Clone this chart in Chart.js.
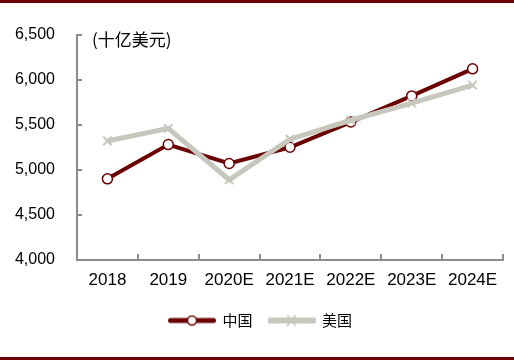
<!DOCTYPE html>
<html>
<head>
<meta charset="utf-8">
<script src="https://cdn.jsdelivr.net/npm/chart.js@4.4.1/dist/chart.umd.min.js"></script>
<style>
  html, body { margin: 0; padding: 0; background: #fff; }
  #wrap { width: 514px; height: 354px; border-top: 3px solid #6b0000; border-bottom: 3px solid #6b0000; position: relative; }
  canvas { display: block; }
</style>
</head>
<body>
<div id="wrap"><canvas id="c" width="514" height="354"></canvas></div>
<script>
const categories = ['2018', '2019', '2020E', '2021E', '2022E', '2023E', '2024E'];
const chinaValues = [4900, 5280, 5070, 5250, 5530, 5820, 6120];
const usValues = [5320, 5460, 4890, 5340, 5550, 5740, 5940];
const seriesNames = ['中国', '美国'];
const unitLabel = '(十亿美元)';
const yMin = 4000, yMax = 6500, yStep = 500;

const RED = '#6b0000';
const GRAY = '#c7c7bd';
const AXIS = '#8c8c8c';

function legendIcon(color, lw, marker) {
  const c = document.createElement('canvas');
  c.width = 48; c.height = 12;
  const g = c.getContext('2d');
  g.strokeStyle = color; g.lineWidth = lw; g.lineCap = 'round';
  g.beginPath(); g.moveTo(2.5, 6); g.lineTo(45.5, 6); g.stroke();
  if (marker === 'circle') {
    g.fillStyle = '#fff'; g.lineWidth = 1.5;
    g.beginPath(); g.arc(24, 6, 4.5, 0, Math.PI * 2); g.fill(); g.stroke();
  } else {
    g.lineWidth = 1.5;
    g.beginPath(); g.moveTo(20, 1); g.lineTo(28, 11); g.moveTo(28, 1); g.lineTo(20, 11); g.stroke();
  }
  return c;
}

const tickPlugin = {
  id: 'tickMarks',
  afterLayout(chart) {
    if (chart.legend) { chart.legend.left += 9; chart.legend.right += 9; }
  },
  afterDraw(chart) {
    const ctx = chart.ctx, x = chart.scales.x, y = chart.scales.y, a = chart.chartArea;
    ctx.save();
    ctx.strokeStyle = AXIS; ctx.lineWidth = 2;
    y.ticks.forEach((t, i) => {
      const py = Math.round(y.getPixelForTick(i));
      ctx.beginPath(); ctx.moveTo(a.left, py); ctx.lineTo(a.left + 5, py); ctx.stroke();
    });
    const n = categories.length;
    for (let i = 0; i <= n; i++) {
      let px;
      if (i === 0) px = a.left; else if (i === n) px = a.right;
      else px = (x.getPixelForTick(i - 1) + x.getPixelForTick(i)) / 2;
      px = Math.round(px);
      ctx.beginPath(); ctx.moveTo(px, a.bottom); ctx.lineTo(px, a.bottom - 6); ctx.stroke();
    }
    ctx.fillStyle = '#000';
    ctx.font = '17px "Noto Sans CJK SC", sans-serif';
    ctx.textBaseline = 'middle';
    ctx.fillText(unitLabel, a.left + 15, a.top + 5);
    ctx.restore();
  }
};

new Chart(document.getElementById('c'), {
  type: 'line',
  data: {
    labels: categories,
    datasets: [
      {
        label: seriesNames[0], data: chinaValues, order: 1,
        borderColor: RED, borderWidth: 4, backgroundColor: '#fff',
        pointStyle: 'circle', pointRadius: 5, pointBorderWidth: 1.5,
        pointBackgroundColor: '#fff', pointBorderColor: RED, tension: 0
      },
      {
        label: seriesNames[1], data: usValues, order: 0,
        borderColor: GRAY, borderWidth: 5, backgroundColor: GRAY,
        pointStyle: 'crossRot', pointRadius: 6, pointBorderWidth: 2,
        pointBorderColor: GRAY, tension: 0
      }
    ]
  },
  options: {
    responsive: false,
    animation: false,
    layout: { padding: { top: 30, right: 11, left: 0, bottom: 19 } },
    plugins: {
      tooltip: { enabled: false },
      legend: {
        position: 'bottom',
        labels: {
          usePointStyle: true,
          pointStyleWidth: 46,
          padding: 16,
          color: '#000',
          font: { family: '"Noto Sans CJK SC", sans-serif', size: 15 },
          generateLabels(chart) {
            return chart.data.datasets.map((d, i) => ({
              text: d.label,
              datasetIndex: i,
              pointStyle: i === 0 ? legendIcon(RED, 5, 'circle') : legendIcon(GRAY, 6, 'cross'),
              fillStyle: d.borderColor, strokeStyle: d.borderColor, lineWidth: 0,
              fontColor: '#000', hidden: false
            }));
          }
        }
      }
    },
    scales: {
      x: {
        offset: true,
        grid: { display: false, drawTicks: false },
        border: { display: true, color: AXIS, width: 2 },
        ticks: { color: '#000', font: { family: 'Liberation Sans, Arial, sans-serif', size: 17 }, padding: 10, maxRotation: 0 },
        afterFit(s) { s.height = 37; }
      },
      y: {
        min: yMin, max: yMax,
        grid: { display: false, drawTicks: false },
        border: { display: true, color: AXIS, width: 2 },
        ticks: {
          stepSize: yStep, color: '#000', padding: 22,
          font: { family: 'Liberation Sans, Arial, sans-serif', size: 16 },
          callback: v => v.toLocaleString('en-US')
        },
        afterFit(s) { s.width = 77; }
      }
    }
  },
  plugins: [tickPlugin]
});
</script>
</body>
</html>
